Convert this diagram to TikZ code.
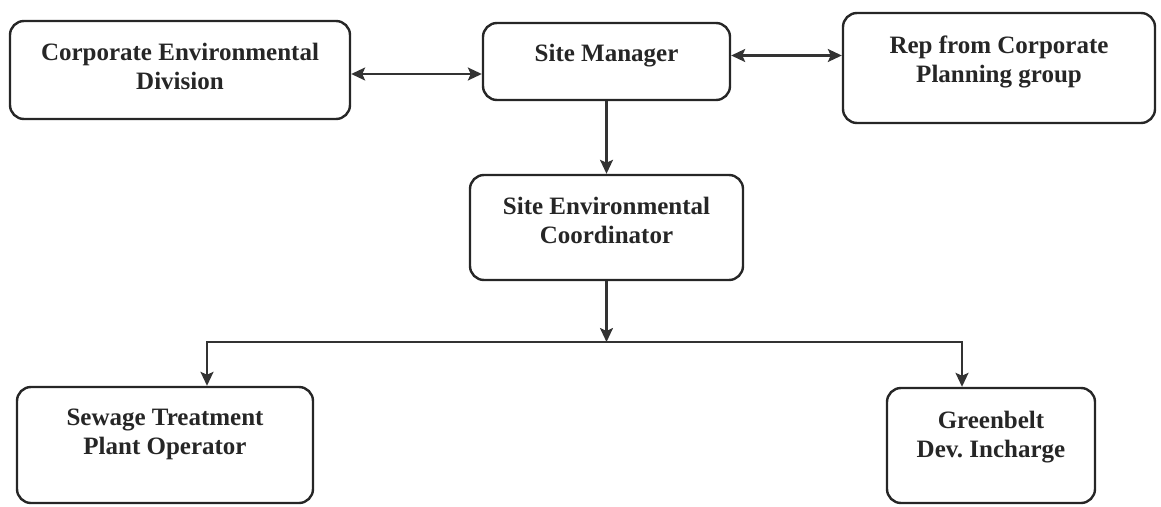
\documentclass[tikz,border=0pt]{standalone}
\usepackage{fontspec}
\setmainfont{Liberation Serif}
\usetikzlibrary{arrows.meta}
\tikzset{
  unitbox/.style={draw=black!85, line width=2.4pt, rounded corners=14pt},
  unittext/.style={anchor=north, align=center, inner sep=2pt, text=black!85,
    font=\fontsize{25}{29}\selectfont\bfseries},
  link/.style={draw=black!80, line width=2.2pt},
  tip/.style={-{Stealth[length=14pt,width=13pt,inset=3pt]}},
  tips/.style={{Stealth[length=14pt,width=13pt,inset=3pt]}-{Stealth[length=14pt,width=13pt,inset=3pt]}}
}
\begin{document}
\begin{tikzpicture}[x=1pt,y=-1pt]
 \useasboundingbox (0,0) rectangle (1161,506);
 \node[unitbox,minimum width=340pt,minimum height=98pt,label={[unittext,yshift=-21pt]north:{Corporate Environmental\\Division}}] (ced) at (180,70) {};
 \node[unitbox,minimum width=247pt,minimum height=77pt,label={[unittext,yshift=-20pt]north:{Site Manager}}] (sm) at (606.5,61.5) {};
 \node[unitbox,minimum width=312pt,minimum height=110pt,label={[unittext,yshift=-22pt]north:{Rep from Corporate\\Planning group}}] (rep) at (999,68) {};
 \node[unitbox,minimum width=273pt,minimum height=105pt,label={[unittext,yshift=-21pt]north:{Site Environmental\\Coordinator}}] (sec) at (606.5,227.5) {};
 \node[unitbox,minimum width=296pt,minimum height=116pt,label={[unittext,yshift=-21pt]north:{Sewage Treatment\\Plant Operator}}] (stpo) at (165,445) {};
 \node[unitbox,minimum width=208pt,minimum height=115pt,label={[unittext,yshift=-22pt]north:{Greenbelt\\Dev.\ Incharge}}] (gb) at (991,445.5) {};
 \coordinate (split) at (606.5,342);
 \coordinate (lft) at (207,342);
 \coordinate (rgt) at (962,342);
 \draw[link,tips] ([yshift=-4pt]ced.east) -- ([yshift=-4pt]ced.east -| sm.west);
 \draw[link,tips] ([yshift=6pt]sm.east) -- ([yshift=6pt]sm.east -| rep.west);
 \draw[link,tip] (sm.south) -- (sec.north);
 \draw[link,tip] (sec.south) -- (split);
 \draw[link,line cap=rect] (lft) -- (rgt);
 \draw[link,tip] (lft) -- (lft |- stpo.north);
 \draw[link,tip] (rgt) -- (rgt |- gb.north);
\end{tikzpicture}
\end{document}
